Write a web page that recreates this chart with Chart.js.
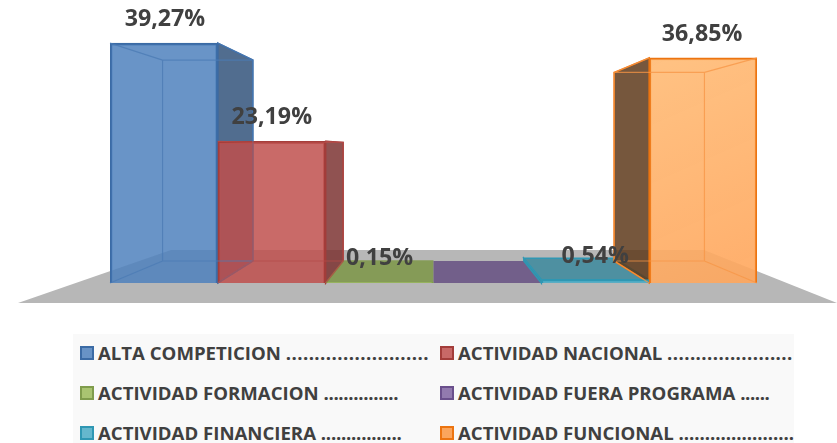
<!DOCTYPE html>
<html>
<head>
<meta charset="utf-8">
<script src="https://cdn.jsdelivr.net/npm/chart.js@4/dist/chart.umd.min.js"></script>
<style>
  html, body { margin: 0; padding: 0; background: #fff; overflow: hidden; }
  #wrap { position: relative; width: 837px; height: 443px; }
  #legend {
    position: absolute; left: 73px; top: 334px; width: 721px; height: 109px;
    background: #f9f9f9; overflow: hidden;
    font: 700 18.6px "Open Sans", sans-serif; color: #404040;
  }
  .item { position: absolute; white-space: nowrap; line-height: 20px; }
  .swatch {
    position: absolute; left: -18px; top: 3px; width: 10px; height: 10px;
    border: 2px solid; box-sizing: content-box;
  }
</style>
</head>
<body>
<div id="wrap">
  <canvas id="chart" width="837" height="443"></canvas>
  <div id="legend"></div>
</div>
<script>
const categories = ['ALTA COMPETICION', 'ACTIVIDAD NACIONAL', 'ACTIVIDAD FORMACION',
  'ACTIVIDAD FUERA PROGRAMA', 'ACTIVIDAD FINANCIERA', 'ACTIVIDAD FUNCIONAL'];
const values = [39.27, 23.19, 0.15, 0, 0.54, 36.85];
const valueLabels = ['39,27%', '23,19%', '0,15%', '', '0,54%', '36,85%'];
const legendDots = ['.........................', '......................', '...............',
  '......', '................', '......................'];
const legendDotGap = [0.43, 0.41, -0.32, -0.42, -0.26, -0.05]; // px between dots

// base colour of each bar (r, g, b)
const baseColors = [[79, 129, 189], [192, 80, 77], [155, 187, 89], [128, 100, 162], [75, 172, 198], [247, 150, 70]];
const edgeColors = ['#3b6ba5', '#a33d3a', '#7f9c4c', '#6a4f8c', '#2f97b3', '#ec7410'];
const labelShift = [1, 0, 0, 0, 0, -1]; // label nudge, px

const rgba = (c, shade, a) => `rgba(${c.map(v => Math.round(v * shade)).join(',')},${a})`;

// fake 3D: every box corner runs toward a vanishing point by the same depth
const depth = 0.1625;

function polygon(ctx, pts, fill, stroke, width) {
  ctx.beginPath();
  pts.forEach((p, i) => i ? ctx.lineTo(p[0], p[1]) : ctx.moveTo(p[0], p[1]));
  ctx.closePath();
  if (fill) { ctx.fillStyle = fill; ctx.fill(); }
  if (stroke) { ctx.strokeStyle = stroke; ctx.lineWidth = width; ctx.stroke(); }
}

function boxGeometry(chart, i) {
  const bar = chart.getDatasetMeta(0).data[i];
  const { x, y } = chart.scales;
  const vx = (x.left + x.right) / 2;
  const vy = y.getPixelForValue(22.15);
  const back = (px, py) => [px + (vx - px) * depth, py + (vy - py) * depth];
  const half = bar.width / 2;
  const l = bar.x - half, r = bar.x + half, t = bar.y, b = bar.base;
  return { vx, vy, l, r, t, b,
    tl: back(l, t), tr: back(r, t), bl: back(l, b), br: back(r, b) };
}

// orange bar has a soft glow from its top left corner
function barFill(context) {
  const i = context.dataIndex;
  const area = context.chart.chartArea;
  if (i !== 5 || !area) return rgba(baseColors[i], 1, 0.85);
  const g = context.chart.ctx.createLinearGradient(area.right - 108, area.top, area.right, area.bottom);
  g.addColorStop(0, 'rgba(255,190,122,0.92)');
  g.addColorStop(1, 'rgba(255,166,92,0.9)');
  return g;
}

const box3d = {
  id: 'box3d',
  beforeDatasetsDraw(chart) {
    const { ctx, scales: { x, y } } = chart;
    const base = y.getPixelForValue(0);
    // grey floor under all the boxes
    polygon(ctx, [[x.left - 92, base + 20], [x.left + 61, base - 33], [x.right - 53, base - 33],
      [x.right + 80, base + 20]], '#b7b7b7');

    values.forEach((v, i) => {
      const g = boxGeometry(chart, i);
      const c = baseColors[i];
      const edge = edgeColors[i];
      if (g.r < g.vx - 1) {
        polygon(ctx, [[g.r, g.t], g.tr, g.br, [g.r, g.b]], rgba(c, 0.65, 0.85), edge, 1.5);
      } else if (g.l > g.vx + 1) {
        polygon(ctx, [[g.l, g.t], g.tl, g.bl, [g.l, g.b]], rgba(c, i === 5 ? 0.38 : 0.7, 0.85), edge, 1.5);
      }
      // top face only shows for the flat boxes, below eye level
      if (g.t > g.vy) {
        polygon(ctx, [[g.l, g.t], g.tl, g.tr, [g.r, g.t]], rgba(c, 0.8, 0.85), i === 4 ? edge : null, 1.5);
      }
    });
  },
  afterDatasetsDraw(chart) {
    const { ctx } = chart;
    ctx.save();
    // inner wire frame of the tall boxes, seen through the front
    values.forEach((v, i) => {
      const g = boxGeometry(chart, i);
      if (g.t > g.vy) return;
      ctx.strokeStyle = rgba(baseColors[i], i === 5 ? 1 : 0.95, 0.75);
      ctx.lineWidth = 1.2;
      ctx.beginPath();
      ctx.rect(g.tl[0], g.tl[1], g.tr[0] - g.tl[0], g.bl[1] - g.tl[1]);
      [[[g.l, g.t], g.tl], [[g.r, g.t], g.tr], [[g.l, g.b], g.bl], [[g.r, g.b], g.br]].forEach(s => {
        ctx.moveTo(s[0][0], s[0][1]);
        ctx.lineTo(s[1][0], s[1][1]);
      });
      ctx.stroke();
    });
    // value labels, drawn by hand since only core Chart.js is available
    ctx.font = '700 23.2px "Open Sans", sans-serif';
    ctx.fillStyle = '#404040';
    ctx.textAlign = 'center';
    ctx.textBaseline = 'middle';
    chart.getDatasetMeta(0).data.forEach((bar, i) => {
      ctx.fillText(valueLabels[i], bar.x + labelShift[i], bar.y - 23.5);
    });
    ctx.restore();
  }
};

new Chart(document.getElementById('chart'), {
  type: 'bar',
  data: {
    labels: categories,
    datasets: [{
      data: values,
      backgroundColor: barFill,
      borderColor: edgeColors,
      borderWidth: 2,
      barPercentage: 1,
      categoryPercentage: 1
    }]
  },
  options: {
    responsive: false,
    animation: false,
    layout: { padding: { left: 110, right: 80, top: 38.6, bottom: 160 } },
    plugins: { legend: { display: false }, tooltip: { enabled: false } },
    scales: {
      x: { display: false },
      y: { display: false, min: 0, max: 40 }
    }
  },
  plugins: [box3d]
});

// legend, two columns by three rows
const legend = document.getElementById('legend');
categories.forEach((name, i) => {
  const item = document.createElement('div');
  item.className = 'item';
  item.style.left = (i % 2 ? 385 : 25) + 'px';
  item.style.top = (9 + Math.floor(i / 2) * 40) + 'px';
  item.textContent = name + ' ';
  const dots = document.createElement('span');
  dots.style.letterSpacing = legendDotGap[i] + 'px';
  dots.textContent = legendDots[i];
  item.appendChild(dots);
  const swatch = document.createElement('span');
  swatch.className = 'swatch';
  swatch.style.background = i === 5 ? '#fba55c' : rgba(baseColors[i], 1, 0.85);
  swatch.style.borderColor = edgeColors[i];
  item.appendChild(swatch);
  legend.appendChild(item);
});
</script>
</body>
</html>
